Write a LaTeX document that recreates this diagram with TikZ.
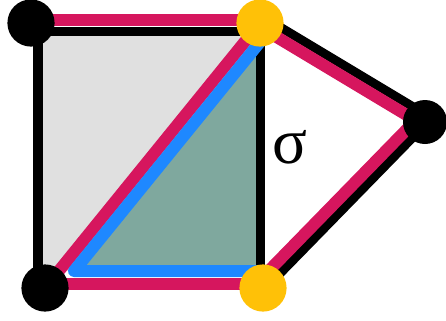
\documentclass[tikz,border=0pt]{standalone}
\usepackage{xcolor}
\usepackage{fontspec}
\usepackage{tikz}
\usetikzlibrary{calc}
\newfontfamily\greekfont{Liberation Serif}
\definecolor{crimson}{RGB}{214,22,94}
\definecolor{skyblue}{RGB}{30,136,255}
\definecolor{amber}{RGB}{255,193,7}
\definecolor{sage}{RGB}{127,168,158}
\definecolor{palegray}{RGB}{224,224,224}

\begin{document}
\begin{tikzpicture}[x=0.25mm, y=-0.25mm,
    edge/.style={draw=black, line width=2.25mm},
    pathband/.style={draw=crimson, line width=3mm},
    cycleband/.style={draw=skyblue, line width=3mm, line join=round},
    vertex/.style={circle, inner sep=0pt, minimum size=11.8mm}]
    \useasboundingbox (0,0) rectangle (446,320);

    % vertices
    \coordinate (tl) at (31,23);
    \coordinate (tr) at (260,23);
    \coordinate (bl) at (45,288);
    \coordinate (br) at (263,288);
    \coordinate (rt) at (425,122);

    % square and the cycle round the lower triangle
    \coordinate (sq-tl) at (38,31);
    \coordinate (sq-tr) at (260,31);
    \coordinate (sq-br) at (260,271);
    \coordinate (sq-bl) at (38,271);
    \coordinate (cy-tr) at (260,42);
    \coordinate (cy-bl) at (74,271);

    \fill[palegray] (sq-tl) -- (sq-tr) -- (sq-br) -- (sq-bl) -- cycle;
    \fill[sage] (cy-tr) -- (sq-br) -- (cy-bl) -- cycle;

    \draw[edge] (tl |- sq-tl) -- (sq-tr);
    \draw[edge] (sq-tl |- tl) -- (sq-tl |- bl);
    \draw[edge] (sq-tr |- tr) -- (sq-br);
    \draw[edge] ($(tr)+(5,-5)$) -- ($(rt)+(5,-5)$);
    \draw[edge] ($(rt)+(-4,7)$) -- ($(br)+(-4,7)$);

    \draw[pathband] ($(tl)+(0,-3)$) -- ($(tr)+(0,-3)$);
    \draw[pathband] (bl) -- (tr);
    \draw[pathband] ($(tr)+(0,4)$) -- ($(rt)+(0,4)$);
    \draw[pathband] ($(rt)+(-11,0)$) -- ($(br)+(-11,0)$);
    \draw[pathband] ($(bl)+(0,-4)$) -- ($(br)+(0,-4)$);

    \draw[cycleband] (cy-tr) -- (cy-bl) -- (br |- cy-bl);

    \node[vertex, fill=black] (tl-dot) at (tl) {};
    \node[vertex, fill=amber] (tr-dot) at (tr) {};
    \node[vertex, fill=black] (bl-dot) at (bl) {};
    \node[vertex, fill=amber] (br-dot) at (br) {};
    \node[vertex, fill=black, minimum size=11mm] (rt-dot) at (rt) {};

    \node (sigma) at (290,147) {\greekfont\fontsize{46}{50}\selectfont σ};
\end{tikzpicture}
\end{document}
